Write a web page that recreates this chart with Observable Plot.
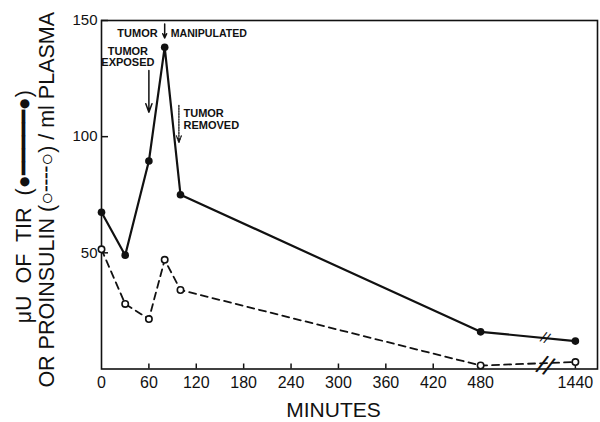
<!DOCTYPE html>
<html><head><meta charset="utf-8">
<script src="https://cdn.jsdelivr.net/npm/d3@7"></script>
<script src="https://cdn.jsdelivr.net/npm/@observablehq/plot@0.6"></script>
<style>body{margin:0;background:#fff}svg{display:block}</style>
</head><body><div id="chart"></div>
<script>
// ---- data ----
const minutes    = [0, 30, 60, 80, 100, 480, 1440];
const tir        = [67.5, 49, 89.5, 138.5, 75, 16, 12];
const proinsulin = [51.5, 28, 21.5, 47, 34, 1.5, 3];
const xTickMinutes = [0, 60, 120, 180, 240, 300, 360, 420, 480, 1440];
const yTicks = [50, 100, 150];
const events = [
  {label: "TUMOR\nEXPOSED", t: 60},
  {label: "TUMOR", t: 80},
  {label: "MANIPULATED", t: 80},
  {label: "TUMOR\nREMOVED", t: 100}
];
const yLabel1 = "\u03bcU\u00a0 OF\u00a0 TIR\u00a0 (\u25cf\u2501\u2501\u2501\u2501\u2501\u25cf)";
const yLabel2 = "OR PROINSULIN (\u25cb\u254c\u254c\u25cb) / ml PLASMA";
const xLabel = "MINUTES";

// ---- broken time axis: after 480 min the axis is compressed ----
const breakStart = 480, breakScale = 0.125, xMaxVirtual = 628;
const brk = t => t <= breakStart ? t : breakStart + (t - breakStart) * breakScale;
const tickLabel = new Map(xTickMinutes.map(t => [brk(t), String(t)]));

const tirData = minutes.map((t, i) => ({t, v: tir[i]}));
const proData = minutes.map((t, i) => ({t, v: proinsulin[i]}));

const W = 600, H = 422, mL = 101, mR = 3, mT = 20, mB = 53.5;
const frameW = W - mL - mR, frameH = H - mT - mB;

// break marks placed on each series between 480 and 1440
const breakFrac = 0.68;
function breakPoint(arr) {
  const a = brk(480), b = brk(1440), x = a + (b - a) * breakFrac;
  const y = arr[5] + (arr[6] - arr[5]) * breakFrac;
  return {x, y};
}
const brkTir = breakPoint(tir), brkPro = breakPoint(proinsulin);

const font = "'Liberation Sans', Arial, sans-serif";

const chart = Plot.plot({
  width: W, height: H,
  marginLeft: mL, marginRight: mR, marginTop: mT, marginBottom: mB,
  style: {fontFamily: font, color: "#111", background: "#fff"},
  x: {domain: [0, xMaxVirtual]},
  y: {domain: [0, 150]},
  marks: [
    Plot.frame({stroke: "#111", strokeWidth: 1.6}),
    Plot.tickY(yTicks, {y: d => d, insetRight: frameW - 7, stroke: "#111", strokeWidth: 1.5}),
    Plot.tickX(xTickMinutes.slice(1), {x: d => brk(d), insetTop: frameH - 5, stroke: "#111", strokeWidth: 1.5}),
    Plot.axisY(yTicks, {tickSize: 0, tickPadding: 4, fontSize: 15, label: null}),
    Plot.axisX(xTickMinutes.map(brk), {tickSize: 0, tickPadding: 8, fontSize: 16, label: null,
      tickFormat: v => tickLabel.get(v)}),
    Plot.line(proData, {x: d => brk(d.t), y: "v", stroke: "#111", strokeWidth: 1.8, strokeDasharray: "7,5"}),
    Plot.line(tirData, {x: d => brk(d.t), y: "v", stroke: "#111", strokeWidth: 2.2}),
    Plot.dot(proData, {x: d => brk(d.t), y: "v", r: 3.2, fill: "#fff", stroke: "#111", strokeWidth: 1.6}),
    Plot.dot(tirData, {x: d => brk(d.t), y: "v", r: 3.8, fill: "#111", stroke: "none"}),
    Plot.text([brkTir], {x: "x", y: "y", text: () => "//", fontSize: 15, rotate: 22, fill: "#111"}),
    Plot.text([brkPro], {x: "x", y: "y", text: () => "//", fontSize: 26, rotate: 22, dy: 3, fill: "#111"}),
    Plot.arrow([{t: 60}], {x: d => brk(d.t), y1: 128.5, y2: 110.5, stroke: "#111", strokeWidth: 1.5, headLength: 9, headAngle: 40}),
    Plot.arrow([{t: 80}], {x: d => brk(d.t), y1: 148.5, y2: 142.5, stroke: "#111", strokeWidth: 1.5, headLength: 6, headAngle: 50}),
    Plot.arrow([{t: 100}], {x: d => brk(d.t) - 2, y1: 113.5, y2: 97.5, stroke: "#111", strokeWidth: 1.3, strokeDasharray: "1.5,1.2", headLength: 8, headAngle: 40}),
    Plot.text([events[0]], {x: d => brk(d.t), y: 134.3, text: "label", dx: -21, fontSize: 11, fontWeight: "bold", lineHeight: 1.0, textAnchor: "middle", fill: "#111"}),
    Plot.text([events[1]], {x: d => brk(d.t), y: 144.4, text: "label", dx: -7, fontSize: 11, fontWeight: "bold", textAnchor: "end", fill: "#111"}),
    Plot.text([events[2]], {x: d => brk(d.t), y: 144.4, text: "label", dx: 6, fontSize: 10.6, fontWeight: "bold", textAnchor: "start", fill: "#111"}),
    Plot.text([events[3]], {x: d => brk(d.t), y: 107.4, text: "label", dx: 3, fontSize: 11, fontWeight: "bold", lineHeight: 1.05, textAnchor: "start", fill: "#111"}),
    Plot.text([xLabel], {frameAnchor: "bottom", dx: -16, dy: 41.5, fontSize: 21, textAnchor: "middle", lineAnchor: "middle", fill: "#111"}),
    Plot.text([yLabel1], {frameAnchor: "left", rotate: -90, dx: -77.5, dy: 12, fontSize: 21.5, textAnchor: "middle", lineAnchor: "middle", fill: "#111"}),
    Plot.text([yLabel2], {frameAnchor: "left", rotate: -90, dx: -54.5, dy: 5, fontSize: 21.5, textAnchor: "middle", lineAnchor: "middle", fill: "#111"})
  ]
});
document.getElementById("chart").append(chart);
</script></body></html>
